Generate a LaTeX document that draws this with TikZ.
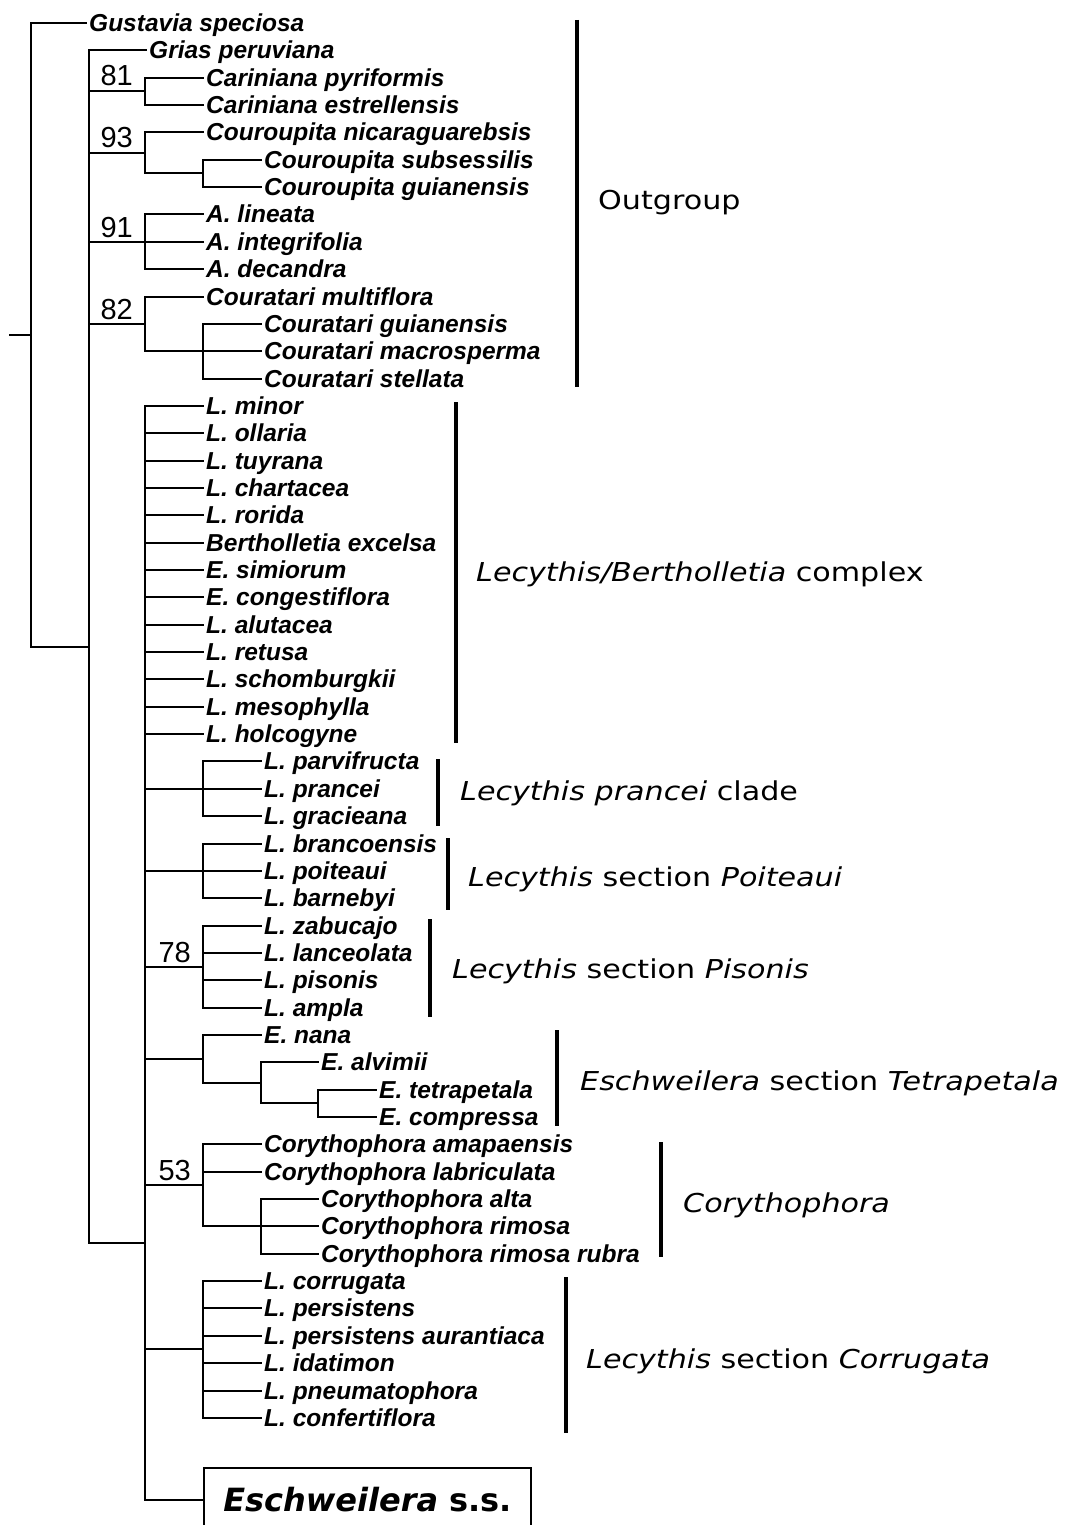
\documentclass[tikz,border=0pt]{standalone}
\usepackage{fontspec}
\usepackage{graphicx}
\setmainfont{Liberation Sans}
\newfontfamily\grpfont{DejaVu Sans}

% vertical position (in pt, downwards) of leaf row #1, snapped to whole points
\newcommand{\ry}[1]{round(23+27.35*(#1))}
\newcommand{\gtxt}[1]{\scalebox{1.16}[1]{#1}}

\tikzset{
  br/.style={line width=2pt, line cap=rect},
  leaf/.style={anchor=west, inner xsep=3pt, inner ysep=0pt, text height=17pt, text depth=0pt,
    font=\fontsize{24.5}{28}\selectfont\bfseries\itshape},
  boot/.style={anchor=base east, inner sep=0pt, font=\fontsize{29}{32}\selectfont},
  grp/.style={anchor=base west, inner sep=0pt, font=\grpfont\fontsize{26}{30}\selectfont},
  grpbar/.style={line width=3.2pt},
}

\begin{document}
\begin{tikzpicture}[x=1pt, y=-1pt]
\useasboundingbox (0,0) rectangle (1067,1525);
\fill[white] (0,0) rectangle (1067,1525);
\clip (0,0) rectangle (1067,1525);

% internal nodes of the tree
\coordinate (stub)  at (10,  {\ry{11.4025}});
\coordinate (root)  at (31,  {\ry{11.4025}});
\coordinate (nA)    at (89,  {\ry{22.805}});
\coordinate (nCar)  at (145, {\ry{2.5}});
\coordinate (nCou)  at (145, {\ry{4.75}});
\coordinate (nCouS) at (203, {\ry{5.5}});
\coordinate (nAzz)  at (145, {\ry{8}});
\coordinate (nCour) at (145, {\ry{11}});
\coordinate (nCourS) at (203, {\ry{12}});
\coordinate (nB)    at (145, {\ry{44.61}});
\coordinate (nPra)  at (203, {\ry{28}});
\coordinate (nPoi)  at (203, {\ry{31}});
\coordinate (nPis)  at (203, {\ry{34.5}});
\coordinate (nTet)  at (203, {\ry{37.875}});
\coordinate (nTetA) at (261, {\ry{38.75}});
\coordinate (nTetB) at (318, {\ry{39.5}});
\coordinate (nCor)  at (203, {\ry{42.5}});
\coordinate (nCorS) at (261, {\ry{44}});
\coordinate (nCrg)  at (203, {\ry{48.5}});

% branches between internal nodes
\draw[br] (stub) -- (root);
\foreach \a/\b in {root/nA, nA/nCar, nA/nCou, nA/nAzz, nA/nCour, nA/nB,
                   nCou/nCouS, nCour/nCourS,
                   nB/nPra, nB/nPoi, nB/nPis, nB/nTet, nB/nCor, nB/nCrg,
                   nTet/nTetA, nTetA/nTetB, nCor/nCorS}
  \draw[br] (\a) |- (\b);

% leaves: row / line end x / parent / name / label
\foreach \i/\lx/\pa/\nm/\txt in {
  0/86/root/gus/{Gustavia speciosa},
  1/146/nA/gri/{Grias peruviana},
  2/203/nCar/cpyr/{Cariniana pyriformis},
  3/203/nCar/cest/{Cariniana estrellensis},
  4/203/nCou/cnic/{Couroupita nicaraguarebsis},
  5/261/nCouS/csub/{Couroupita subsessilis},
  6/261/nCouS/cgui/{Couroupita guianensis},
  7/203/nAzz/alin/{A. lineata},
  8/203/nAzz/aint/{A. integrifolia},
  9/203/nAzz/adec/{A. decandra},
  10/203/nCour/cmul/{Couratari multiflora},
  11/261/nCourS/crgu/{Couratari guianensis},
  12/261/nCourS/crma/{Couratari macrosperma},
  13/261/nCourS/crst/{Couratari stellata},
  14/203/nB/lmin/{L. minor},
  15/203/nB/loll/{L. ollaria},
  16/203/nB/ltuy/{L. tuyrana},
  17/203/nB/lcha/{L. chartacea},
  18/203/nB/lror/{L. rorida},
  19/203/nB/bexc/{Bertholletia excelsa},
  20/203/nB/esim/{E. simiorum},
  21/203/nB/econ/{E. congestiflora},
  22/203/nB/lalu/{L. alutacea},
  23/203/nB/lret/{L. retusa},
  24/203/nB/lsch/{L. schomburgkii},
  25/203/nB/lmes/{L. mesophylla},
  26/203/nB/lhol/{L. holcogyne},
  27/261/nPra/lpar/{L. parvifructa},
  28/261/nPra/lpra/{L. prancei},
  29/261/nPra/lgra/{L. gracieana},
  30/261/nPoi/lbra/{L. brancoensis},
  31/261/nPoi/lpoi/{L. poiteaui},
  32/261/nPoi/lbar/{L. barnebyi},
  33/261/nPis/lzab/{L. zabucajo},
  34/261/nPis/llan/{L. lanceolata},
  35/261/nPis/lpis/{L. pisonis},
  36/261/nPis/lamp/{L. ampla},
  37/261/nTet/enan/{E. nana},
  38/318/nTetA/ealv/{E. alvimii},
  39/376/nTetB/etet/{E. tetrapetala},
  40/376/nTetB/ecom/{E. compressa},
  41/261/nCor/cama/{Corythophora amapaensis},
  42/261/nCor/clab/{Corythophora labriculata},
  43/318/nCorS/calt/{Corythophora alta},
  44/318/nCorS/crim/{Corythophora rimosa},
  45/318/nCorS/crru/{Corythophora rimosa rubra},
  46/261/nCrg/lcor/{L. corrugata},
  47/261/nCrg/lper/{L. persistens},
  48/261/nCrg/lpau/{L. persistens aurantiaca},
  49/261/nCrg/lida/{L. idatimon},
  50/261/nCrg/lpne/{L. pneumatophora},
  51/261/nCrg/lcnf/{L. confertiflora}}
{
  \node[leaf] (\nm) at (\lx, {\ry{\i}}) {\txt};
  \draw[br] (\pa) |- (\nm.west);
}

% collapsed clade
\node[draw, line width=1.4pt, minimum width=327pt, minimum height=64pt, inner sep=0pt,
      text height=23pt, text depth=0pt, font=\grpfont\fontsize{32}{36}\selectfont\bfseries]
      (esc) at (367.5, {\ry{54}}) {\textit{Eschweilera} s.s.};
\draw[br] (nB) |- (esc.west);

% bootstrap values
\node[boot] (b81) at (133, {\ry{2.5}-5}) {81};
\node[boot] (b93) at (133, {\ry{4.75}-5}) {93};
\node[boot] (b91) at (133, {\ry{8}-5}) {91};
\node[boot] (b82) at (133, {\ry{11}-5}) {82};
\node[boot] (b78) at (191, {\ry{34.5}-5}) {78};
\node[boot] (b53) at (191, {\ry{42.5}-5}) {53};

% group brackets
\coordinate (ogT) at (577,20);   \coordinate (ogB) at (577,387);
\coordinate (lbT) at (456,402);  \coordinate (lbB) at (456,743);
\coordinate (prT) at (438,759);  \coordinate (prB) at (438,826);
\coordinate (poT) at (448,838);  \coordinate (poB) at (448,910);
\coordinate (piT) at (430,919);  \coordinate (piB) at (430,1017);
\coordinate (teT) at (557,1030); \coordinate (teB) at (557,1126);
\coordinate (coT) at (661,1142); \coordinate (coB) at (661,1257);
\coordinate (crT) at (566,1277); \coordinate (crB) at (566,1433);
\foreach \t/\b in {ogT/ogB, lbT/lbB, prT/prB, poT/poB, piT/piB, teT/teB, coT/coB, crT/crB}
  \draw[grpbar] (\t) -- (\b);

% group names
\node[grp] (gOut) at (598,210)  {\gtxt{Outgroup}};
\node[grp] (gLB)  at (476,581)  {\gtxt{\textit{Lecythis/Bertholletia} complex}};
\node[grp] (gPra) at (460,800)  {\gtxt{\textit{Lecythis prancei} clade}};
\node[grp] (gPoi) at (468,886)  {\gtxt{\textit{Lecythis} section \textit{Poiteaui}}};
\node[grp] (gPis) at (452,978)  {\gtxt{\textit{Lecythis} section \textit{Pisonis}}};
\node[grp] (gTet) at (580,1090) {\gtxt{\textit{Eschweilera} section \textit{Tetrapetala}}};
\node[grp] (gCor) at (683,1212) {\gtxt{\textit{Corythophora}}};
\node[grp] (gCrg) at (586,1368) {\gtxt{\textit{Lecythis} section \textit{Corrugata}}};
\end{tikzpicture}
\end{document}
